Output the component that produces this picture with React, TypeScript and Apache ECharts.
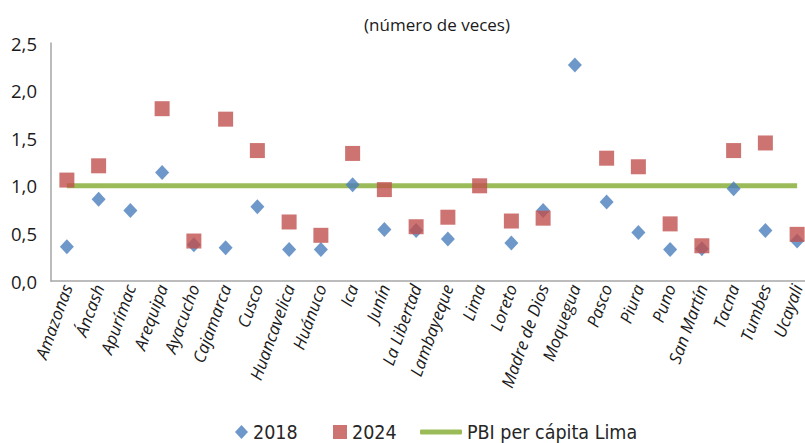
import React, { useEffect, useRef } from "react";
import * as echarts from "echarts";

const categories = [
  "Amazonas", "Áncash", "Apurímac", "Arequipa", "Ayacucho", "Cajamarca",
  "Cusco", "Huancavelica", "Huánuco", "Ica", "Junín", "La Libertad",
  "Lambayeque", "Lima", "Loreto", "Madre de Dios", "Moquegua", "Pasco",
  "Piura", "Puno", "San Martín", "Tacna", "Tumbes", "Ucayali",
];

const values2018: (number | null)[] = [
  0.36, 0.86, 0.74, 1.14, 0.38, 0.35, 0.78, 0.33, 0.33, 1.01, 0.54, 0.53,
  0.44, null, 0.40, 0.74, 2.27, 0.83, 0.51, 0.33, 0.34, 0.97, 0.53, 0.42,
];

const values2024: (number | null)[] = [
  1.06, 1.21, null, 1.81, 0.42, 1.70, 1.37, 0.62, 0.48, 1.34, 0.96, 0.57,
  0.67, 1.0, 0.63, 0.66, null, 1.29, 1.20, 0.60, 0.37, 1.37, 1.45, 0.49,
];

const limaValue = 1.0;
const limaLine = categories.map(() => limaValue);

const yTicks = { min: 0, max: 2.5, interval: 0.5 };

const legendFont = "'Liberation Sans Narrow', 'DejaVu Sans Condensed', sans-serif";

export default function App() {
  const ref = useRef<HTMLDivElement>(null);
  useEffect(() => {
    if (!ref.current) return;
    const chart = echarts.init(ref.current, undefined, { renderer: "svg" });
    const legendText = { fontFamily: legendFont, fontSize: 19.5, color: "#262626" };
    const lastIdx = categories.length - 1;
    const xData = categories.map((c, i) =>
      i === lastIdx ? { value: c, textStyle: { padding: [0, 0, 8, 0] } } : c
    );
    chart.setOption({
      animation: false,
      backgroundColor: "#ffffff",
      title: {
        text: "(número de veces)",
        left: 432,
        textAlign: "center",
        top: 11,
        textStyle: {
          fontFamily: "'Open Sans', sans-serif",
          fontSize: 17,
          fontWeight: "normal",
          color: "#1a1a1a",
        },
      },
      grid: { left: 51, top: 43, width: 762, height: 238, containLabel: false },
      legend: [
        {
          data: ["2018"],
          left: 230,
          top: 417,
          icon: "diamond",
          itemWidth: 13,
          itemHeight: 14,
          itemGap: 5,
          textStyle: legendText,
        },
        {
          data: ["2024"],
          left: 328,
          top: 417,
          icon: "rect",
          itemWidth: 14,
          itemHeight: 14,
          textStyle: legendText,
        },
        {
          data: ["PBI per cápita Lima"],
          left: 415,
          top: 417,
          icon: "roundRect",
          itemWidth: 42,
          itemHeight: 5,
          textStyle: legendText,
        },
      ],
      xAxis: {
        type: "category",
        data: xData,
        boundaryGap: true,
        axisLine: { lineStyle: { color: "#a6a6a6", width: 1.5 } },
        axisTick: { show: false },
        axisLabel: {
          interval: 0,
          rotate: 70,
          margin: 4,
          fontStyle: "italic",
          fontFamily: "'Open Sans', sans-serif",
          fontSize: 17,
          color: "#1a1a1a",
        },
      },
      yAxis: {
        type: "value",
        min: yTicks.min,
        max: yTicks.max,
        interval: yTicks.interval,
        axisLine: { show: true, lineStyle: { color: "#a6a6a6", width: 1.5 } },
        axisTick: { show: false },
        splitLine: { show: false },
        axisLabel: {
          margin: 14,
          fontFamily: "'Open Sans', sans-serif",
          fontSize: 18.5,
          color: "#1a1a1a",
          formatter: (v: number) => v.toFixed(1).replace(".", ","),
        },
      },
      series: [
        {
          name: "PBI per cápita Lima",
          type: "line",
          data: limaLine,
          showSymbol: false,
          symbol: "none",
          lineStyle: { color: "#9bbb59", width: 5 },
          itemStyle: { color: "#9bbb59" },
          z: 1,
        },
        {
          name: "2018",
          type: "scatter",
          data: values2018,
          symbol: "diamond",
          symbolSize: [14, 15],
          itemStyle: { color: "#4a7ebb" },
          z: 2,
        },
        {
          name: "2024",
          type: "scatter",
          data: values2024,
          symbol: "rect",
          symbolSize: 15,
          itemStyle: { color: "#c0504d" },
          z: 3,
        },
      ],
    });
    return () => chart.dispose();
  }, []);
  return (
    <div
      style={{
        position: "absolute",
        left: 0,
        top: 0,
        width: 805,
        height: 443,
        overflow: "hidden",
        background: "#fff",
      }}
    >
      <div ref={ref} style={{ width: 830, height: 443 }} />
    </div>
  );
}
